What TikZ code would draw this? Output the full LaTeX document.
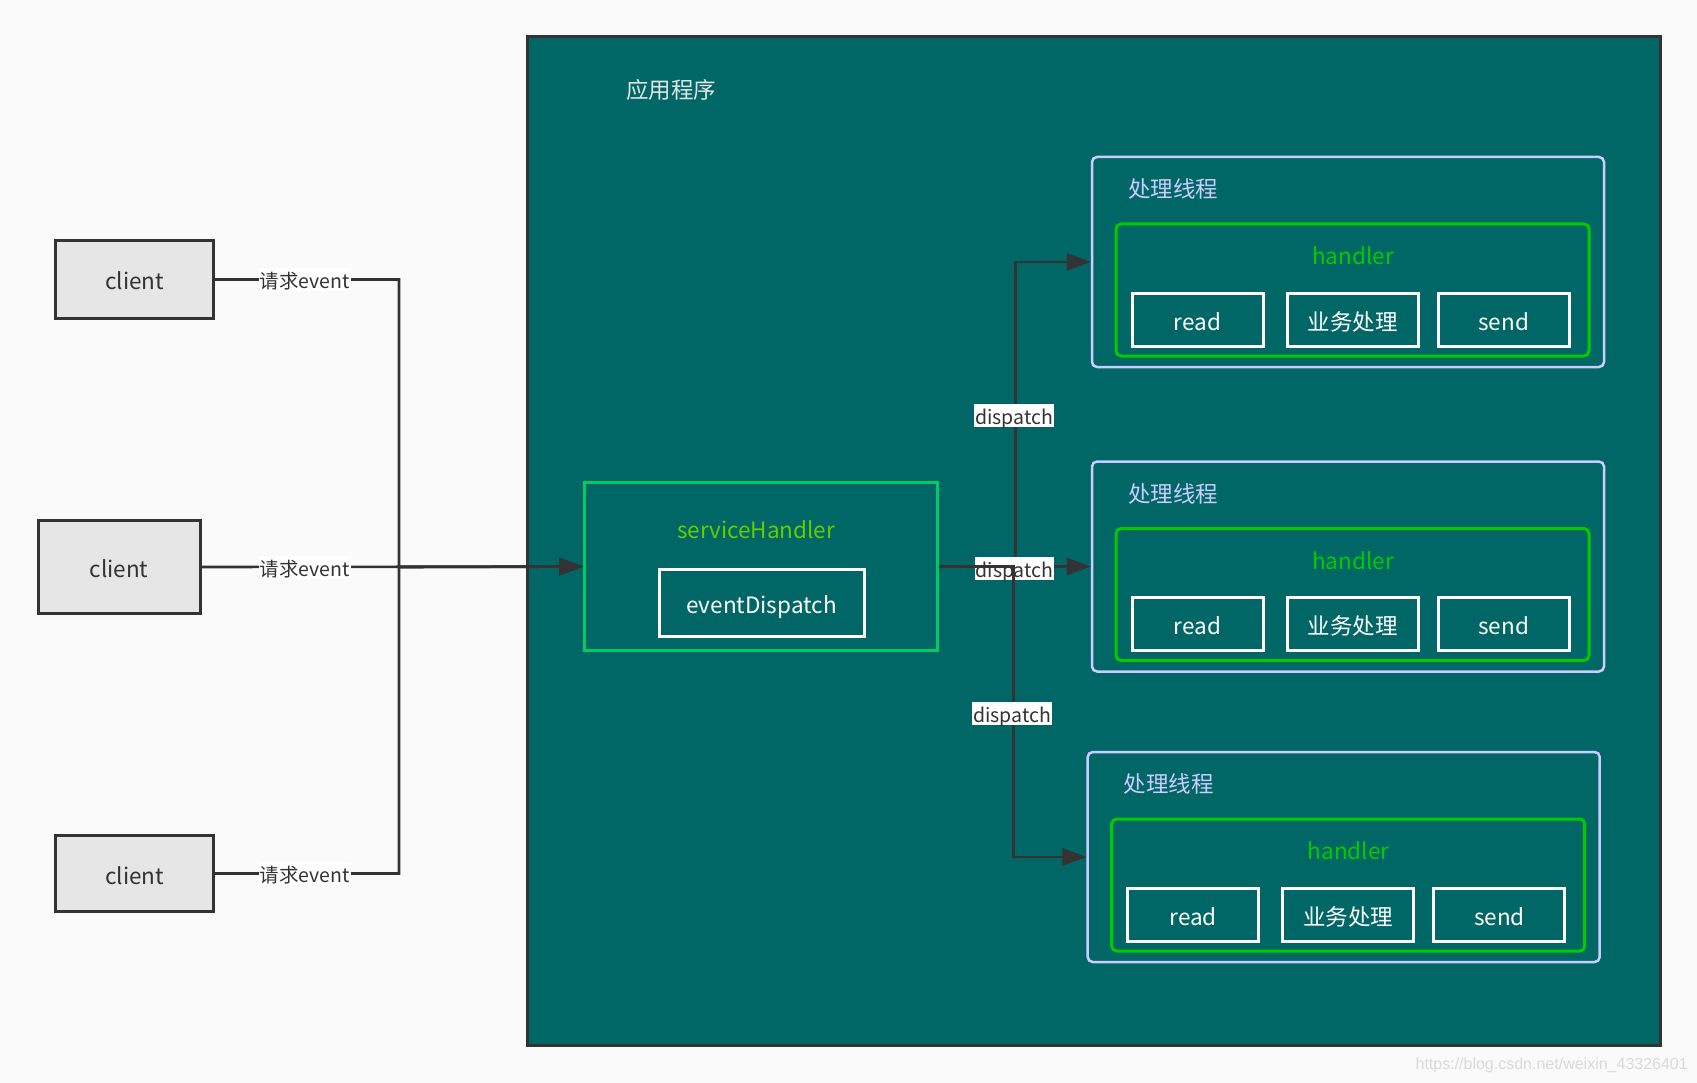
\documentclass[tikz,border=0pt]{standalone}
\usepackage{fontspec}
\setmainfont{Noto Sans CJK SC}
\newfontfamily\wmfont{Liberation Sans}
\usetikzlibrary{arrows.meta,calc}
\definecolor{bgc}{HTML}{FAFAFA}
\definecolor{appc}{HTML}{006666}
\definecolor{dark}{HTML}{333333}
\definecolor{clientc}{HTML}{E6E6E6}
\definecolor{shb}{HTML}{00CC66}
\definecolor{sht}{HTML}{66CC00}
\definecolor{thb}{HTML}{CCCCFF}
\definecolor{hdc}{HTML}{00CC00}
\definecolor{wmc}{HTML}{DADADA}
\definecolor{apptext}{HTML}{E6E6E6}
\tikzset{
  big/.style={font=\fontsize{22.5}{27}\selectfont, text height=23pt, text depth=2pt},
  small/.style={font=\fontsize{19.5}{23}\selectfont, text height=19.5pt, text depth=1.5pt},
  clientbox/.style={draw=dark, line width=3pt, fill=clientc, text=dark, big, inner sep=0pt},
  appbox/.style={draw=dark, line width=3pt, fill=appc},
  shbox/.style={draw=shb, line width=2.5pt, inner sep=0pt, minimum width=353pt, minimum height=168pt},
  whitebox/.style={draw=white, line width=3pt, text=white, big, inner sep=0pt},
  threadbox/.style={draw=thb, line width=2.5pt, rounded corners=5pt, inner sep=0pt, minimum width=512pt, minimum height=210pt},
  handlerbox/.style={draw=hdc, line width=3pt, rounded corners=5pt, inner sep=0pt, minimum width=473pt, minimum height=132pt},
  subbox/.style={whitebox, minimum width=131pt, minimum height=53pt},
  lbl/.style={small, text=dark, fill=white, inner sep=1pt},
  conn/.style={draw=dark, line width=2.6pt, -{Triangle[length=24pt,width=17pt]}},
}
\newcommand\threadgroup[3]{%
  \begin{scope}[shift={(#2,#3)}]
    \node[threadbox] (#1) at (256,105) {};
    \node[big, text=thb, anchor=west, inner sep=0pt] (#1-title) at (36,30) {处理线程};
    \node[handlerbox] (#1-h) at (260.5,133) {};
    \node[big, text=hdc, inner sep=0pt] (#1-ht) at (261,97) {handler};
    \node[subbox] (#1-read) at (105.5,162.7) {read};
    \node[subbox] (#1-biz) at (260.5,162.7) {业务处理};
    \node[subbox] (#1-send) at (411.7,162.7) {send};
  \end{scope}}
\begin{document}
\begin{tikzpicture}[x=1pt,y=-1pt]
  \useasboundingbox[fill=bgc] (0,0) rectangle (1697,1083);
  % application frame
  \draw[appbox] (527,37) rectangle (1660,1045);
  \node[big, text=apptext, inner sep=0pt] (apptitle) at (671,88) {应用程序};
  % clients
  \node[clientbox, minimum width=158pt, minimum height=77pt] (c1) at (134.5,279.5) {client};
  \node[clientbox, minimum width=162pt, minimum height=93pt] (c2) at (119,567) {client};
  \node[clientbox, minimum width=158pt, minimum height=76pt] (c3) at (134.5,873.5) {client};
  % service handler
  \node[shbox] (sh) at (761,566.6) {};
  \node[big, text=sht, inner sep=0pt] (shtext) at (756,528) {serviceHandler};
  \node[whitebox, minimum width=205pt, minimum height=67pt] (ed) at (761.5,602.7) {eventDispatch};
  % threads
  \threadgroup{t1}{1092}{157}
  \threadgroup{t2}{1092}{461.5}
  \threadgroup{t3}{1087.7}{752}
  % client connectors
  \coordinate (j) at (399,567);
  \coordinate (lx) at (305,0);
  \draw[conn] (c1.east) -| (j) -- (sh.west);
  \draw[conn] (c3.east) -| (j) -- (sh.west);
  \draw[conn] (c2.east) -- (sh.west);
  \node[lbl] (l1) at (c1.east -| lx) {请求event};
  \node[lbl] (l2) at (c2.east -| lx) {请求event};
  \node[lbl] (l3) at (c3.east -| lx) {请求event};
  % dispatch connectors
  \draw[conn] (sh.east) -- ++(77,0) |- (t1.west);
  \node[lbl] (d1) at (1014,415) {dispatch};
  \draw[conn] (sh.east) -- (t2.west);
  \node[lbl] (d2) at (1014.5,568) {dispatch};
  \draw[conn] (sh.east) -- ++(75,0) |- (t3.west);
  \node[lbl] (d3) at (1012,713) {dispatch};
  % watermark
  \node[font=\wmfont\fontsize{16}{19}\selectfont, text=wmc, anchor=east, inner sep=0pt] (wm) at (1688,1065) {https://blog.csdn.net/weixin\_43326401};
\end{tikzpicture}
\end{document}
